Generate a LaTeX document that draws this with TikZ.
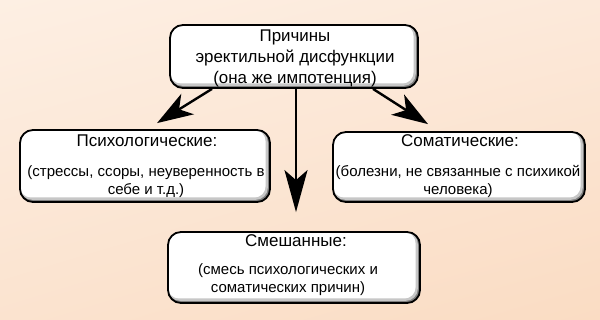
\documentclass[tikz,border=0pt]{standalone}
\usepackage{fontspec}
\setmainfont{Liberation Sans}
\usetikzlibrary{arrows.meta,shadings}
\definecolor{bgUL}{HTML}{FDEFE3}
\definecolor{bgUR}{HTML}{FCE9DA}
\definecolor{bgLL}{HTML}{FBE3CF}
\definecolor{bgLR}{HTML}{FADCC3}
\tikzset{
  box/.style={draw=black, line width=1.8pt, rounded corners=13pt, inner sep=0pt,
    path picture={
      \fill[black!50] (path picture bounding box.south west) rectangle (path picture bounding box.north east);
      \fill[black!22, rounded corners=12pt] (path picture bounding box.north west) rectangle ([shift={(-2.2pt,2.2pt)}]path picture bounding box.south east);
      \fill[white, rounded corners=11pt] (path picture bounding box.north west) rectangle ([shift={(-4.5pt,4.5pt)}]path picture bounding box.south east);
    }},
  ttl/.style={anchor=base, inner sep=0pt, font=\fontsize{17}{20}\selectfont},
  body/.style={anchor=base, inner sep=0pt, align=center, font=\fontsize{15}{18}\selectfont},
  conn/.style={line width=2.4pt, -{Stealth[length=36pt, width=24pt, inset=10pt]}},
  vconn/.style={line width=2.4pt, -{Stealth[length=42pt, width=23pt, inset=10pt]}}
}
\begin{document}
\begin{tikzpicture}[x=1pt, y=-1pt]
\useasboundingbox (0,0) rectangle (600,320);
\shade[upper left=bgUL, upper right=bgUR, lower left=bgLL, lower right=bgLR] (0,0) rectangle (600,320);

\node[box, minimum width=248pt, minimum height=63pt] (top) at (294,56.5) {};
\node[box, minimum width=250pt, minimum height=72pt] (psy) at (145,166) {};
\node[box, minimum width=252pt, minimum height=70pt] (som) at (459,167) {};
\node[box, minimum width=252pt, minimum height=71pt] (mix) at (294,267.5) {};

% multi-line nodes: anchor base = baseline of the last line
\node[anchor=base, inner sep=0pt, align=center, font=\fontsize{16.9}{21}\selectfont] (toptxt) at (295,83.5) {Причины\\эректильной дисфункции\\(она же импотенция)};

\node[ttl] (psyt) at (147,147) {Психологические:};
\node[body] (psyb) at (146,194.5) {(стрессы, ссоры, неуверенность в\\себе и т.д.)};

\node[ttl] (somt) at (460,147) {Соматические:};
\node[body] (somb) at (458,194.5) {(болезни, не связанные с психикой\\человека)};

\node[ttl] (mixt) at (296,247) {Смешанные:};
\node[body] (mixb) at (288,293) {(смесь психологических и\\соматических причин)};

\draw[conn] ([xshift=-82pt]top.south) -- ([xshift=12pt,yshift=6pt]psy.north);
\draw[conn] ([xshift=79pt]top.south) -- ([xshift=-31pt,yshift=7pt]som.north);
\draw[vconn] ([xshift=2pt]top.south) -- ([xshift=2pt,yshift=19pt]mix.north);
\end{tikzpicture}
\end{document}
